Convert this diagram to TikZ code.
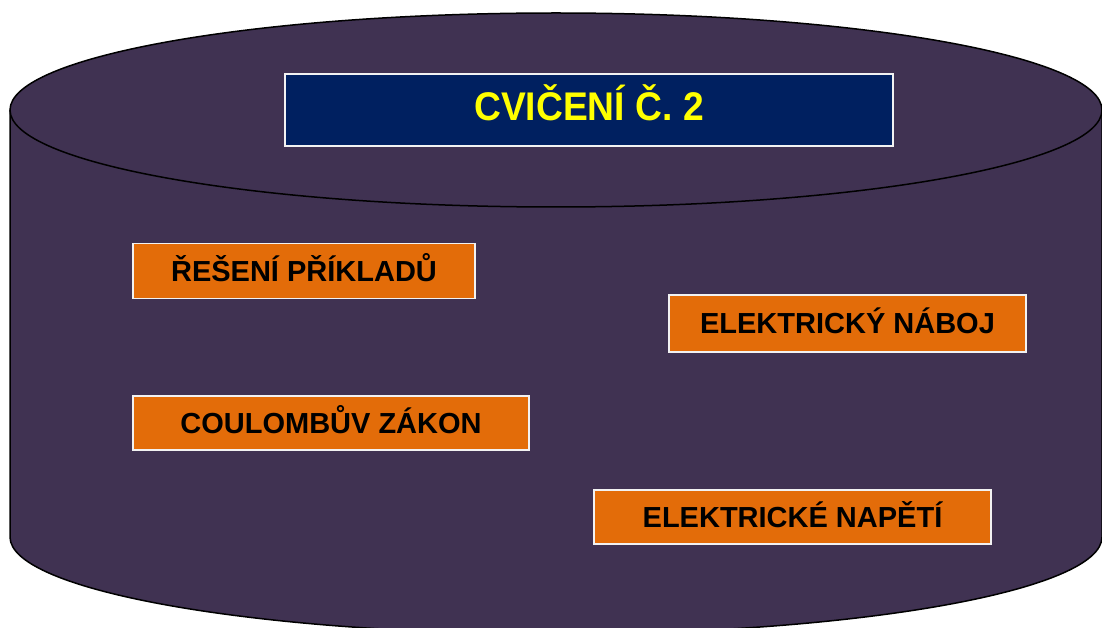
\documentclass[tikz,border=0pt]{standalone}
\usepackage{fontspec}
\setmainfont{Liberation Sans}
\definecolor{cylfill}{HTML}{403252}
\definecolor{titlefill}{HTML}{002060}
\definecolor{boxfill}{HTML}{E36C09}
\definecolor{titletext}{HTML}{FFFF00}
\definecolor{boxedge}{HTML}{F2F2F2}
\tikzset{
  cyl/.style={fill=cylfill, draw=black, line width=1.5pt},
  titlebox/.style={fill=titlefill, draw=boxedge, line width=1.3pt, inner sep=0pt,
    text height=28.6pt, text depth=7pt,
    text=titletext, font=\bfseries\fontsize{40}{40}\selectfont},
  topicbox/.style={fill=boxfill, draw=boxedge, line width=1.3pt, inner sep=0pt,
    text height=20.8pt, text depth=0pt,
    text=black, font=\bfseries\fontsize{29}{29}\selectfont}
}
\begin{document}
\begin{tikzpicture}[x=1pt,y=-1pt]
\useasboundingbox (0,0) rectangle (1102,628);
\clip (0,0) rectangle (1102,628);
% cylinder body
\path[fill=cylfill] (10,110) -- (10,537)
  arc[start angle=180, end angle=360, x radius=546pt, y radius=97pt]
  -- (1102,110)
  arc[start angle=0, end angle=180, x radius=546pt, y radius=97pt] -- cycle;
\draw[cyl, fill=none] (10,110) -- (10,537)
  arc[start angle=180, end angle=360, x radius=546pt, y radius=97pt]
  -- (1102,110);
\draw[cyl] (556,110) ellipse [x radius=546pt, y radius=97pt];
% boxes
\node[titlebox, minimum width=608pt, minimum height=72pt] (title) at (589,110)
  {\scalebox{0.93}[1]{CVIČENÍ Č. 2}};
\node[topicbox, minimum width=342pt, minimum height=55pt] (reseni) at (304,271)
  {ŘEŠENÍ PŘÍKLADŮ};
\node[topicbox, minimum width=357pt, minimum height=57pt] (naboj) at (847.5,323.5)
  {ELEKTRICKÝ NÁBOJ};
\node[topicbox, minimum width=396pt, minimum height=54pt] (coulomb) at (331,423)
  {COULOMBŮV ZÁKON};
\node[topicbox, minimum width=397pt, minimum height=54pt] (napeti) at (792.5,517)
  {ELEKTRICKÉ NAPĚTÍ};
\end{tikzpicture}
\end{document}
